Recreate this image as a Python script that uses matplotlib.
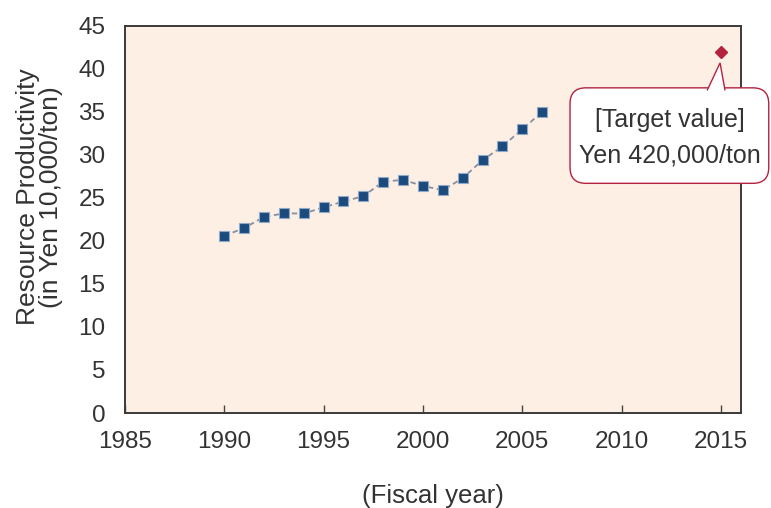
import matplotlib
matplotlib.use('Agg')
from matplotlib import pyplot as plt
from matplotlib.patches import FancyBboxPatch, Polygon

plt.rcParams['font.family'] = ['Liberation Sans', 'DejaVu Sans']

# resource productivity, in Yen 10,000/ton
years = [1990, 1991, 1992, 1993, 1994, 1995, 1996, 1997, 1998,
         1999, 2000, 2001, 2002, 2003, 2004, 2005, 2006]
productivity = [20.6, 21.5, 22.8, 23.2, 23.2, 23.9, 24.6, 25.2, 26.9,
                27.1, 26.4, 25.9, 27.3, 29.4, 31.0, 33.0, 35.0]

target_year = 2015
target_value = 42.0

xticks = [1985, 1990, 1995, 2000, 2005, 2010, 2015]
yticks = [0, 5, 10, 15, 20, 25, 30, 35, 40, 45]

text_col = '#333333'
red = '#b3223f'

fig = plt.figure(figsize=(7.71, 5.08), dpi=100)
ax = fig.add_axes([0.162, 0.187, 0.799, 0.762])
ax.set_facecolor('#fdefe3')

ax.plot(years, productivity, linestyle=(0, (3, 2)), color='#8a8f9e', linewidth=1.3,
        marker='s', markersize=7.8, markerfacecolor='#1b4a7d',
        markeredgecolor='#8ea8c8', markeredgewidth=0.8, zorder=3)
ax.plot([target_year], [target_value], marker='D', markersize=6,
        color=red, linestyle='none', zorder=4)

# speech bubble for the target
ax.set_xlim(1985, 2016)
ax.set_ylim(0, 45)
box_x0, box_x1 = 2007.4, 2017.4
box_y0, box_y1 = 26.7, 37.8
aspect = (616 / 31) / (387 / 45)
bubble = FancyBboxPatch((box_x0, box_y0), box_x1 - box_x0, box_y1 - box_y0,
                        boxstyle='round,pad=0,rounding_size=0.8',
                        mutation_aspect=aspect, fc='white', ec=red, lw=1.0,
                        clip_on=False, zorder=5)
ax.add_patch(bubble)
pointer = Polygon([(2014.3, box_y1 - 0.3), (2014.95, target_value - 1.3),
                   (2015.2, box_y1 - 0.3)], closed=False,
                  fc='white', ec=red, lw=1.0, clip_on=False, zorder=6)
ax.add_patch(pointer)
ax.text((box_x0 + box_x1) / 2, (box_y0 + box_y1) / 2 - 0.2,
        '[Target value]\nYen 420,000/ton', ha='center', va='center',
        fontsize=18, color=text_col, linespacing=1.6, zorder=7)

ax.set_xticks(xticks)
ax.set_yticks(yticks)
ax.tick_params(axis='x', direction='in', length=6, width=1, color='#444444',
               labelsize=17.5, labelcolor=text_col, pad=13)
ax.tick_params(axis='y', length=0, labelsize=17.5, labelcolor=text_col, pad=14)

for side in ax.spines.values():
    side.set_color('#3a3a3a')
    side.set_linewidth(1.4)
    side.set_zorder(4)

ax.set_xlabel('(Fiscal year)', fontsize=18.5, color=text_col, labelpad=22)
ax.set_ylabel('Resource Productivity\n(in Yen 10,000/ton)', fontsize=19,
              color=text_col, linespacing=0.95)
ax.yaxis.set_label_coords(-0.1, 0.558)

plt.savefig('out.png', dpi=100)
plt.close()
